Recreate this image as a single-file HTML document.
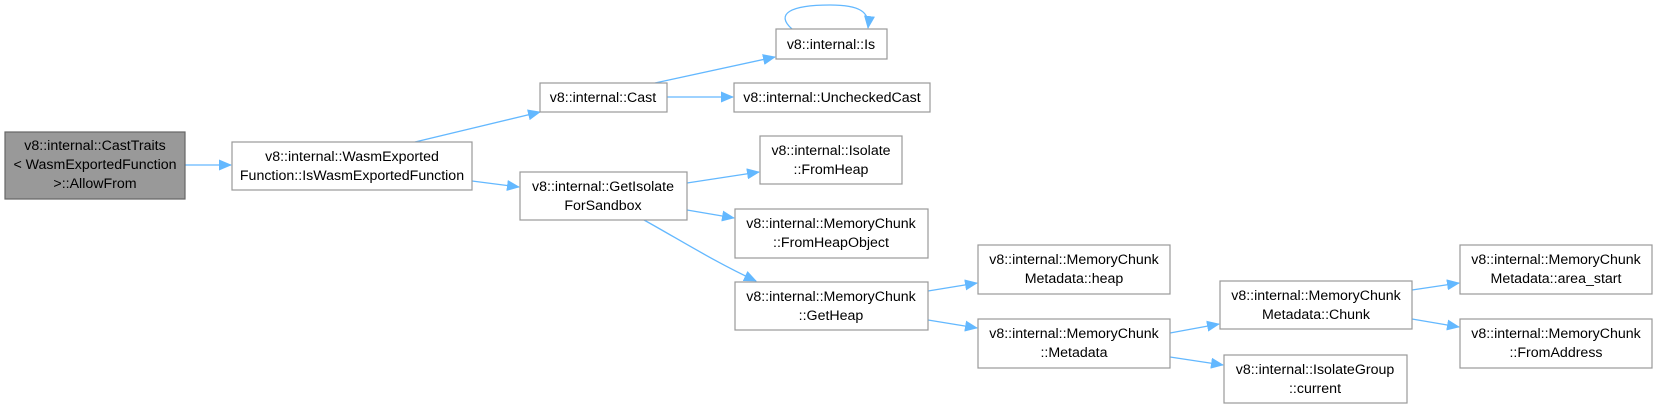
<!DOCTYPE html>
<html><head><meta charset="utf-8"><style>
html,body{margin:0;padding:0;background:#fff;}
svg{display:block;}
text{font-family:"Liberation Sans",sans-serif;font-size:14.2px;fill:#000;text-anchor:middle;}
rect{fill:#fff;stroke:#999;stroke-width:1.2;}
.e{stroke:#63b8ff;stroke-width:1.3;fill:none;marker-end:url(#a);}
</style></head><body>
<svg width="1656" height="409" viewBox="0 0 1656 409">
<defs><marker id="a" markerWidth="13" markerHeight="11" refX="12" refY="5.5" orient="auto" markerUnits="userSpaceOnUse"><path d="M0,0L13,5.5L0,11z" fill="#63b8ff"/></marker></defs>
<path class="e" d="M185,165L231,165"/>
<path class="e" d="M415,142L540,112"/>
<path class="e" d="M472,181L519,187"/>
<path class="e" d="M655,83L775,57"/>
<path class="e" d="M667,97L733,97"/>
<path class="e" d="M792,29C775,14 790,5 830,5C860,5 870,12 868,28"/>
<path class="e" d="M687,183L759,172"/>
<path class="e" d="M687,210L734,218"/>
<path class="e" d="M644,220C680,240 715,262 756,281"/>
<path class="e" d="M928,291L977,283"/>
<path class="e" d="M928,320L977,328"/>
<path class="e" d="M1170,333L1219,324"/>
<path class="e" d="M1170,357L1223,365"/>
<path class="e" d="M1412,290L1459,283"/>
<path class="e" d="M1412,319L1459,327"/>

<rect x="5" y="132" width="180" height="67" style="fill:#999;stroke:#666"/>
<text x="95" y="150">v8::internal::CastTraits</text>
<text x="95" y="169">&lt; WasmExportedFunction</text>
<text x="95" y="188">&gt;::AllowFrom</text>

<rect x="232" y="142" width="240" height="48"/>
<text x="352" y="161">v8::internal::WasmExported</text>
<text x="352" y="180">Function::IsWasmExportedFunction</text>

<rect x="540" y="83" width="127" height="29"/>
<text x="603" y="102">v8::internal::Cast</text>

<rect x="776" y="29" width="111" height="30"/>
<text x="831" y="49">v8::internal::Is</text>

<rect x="734" y="83" width="196" height="29"/>
<text x="832" y="102">v8::internal::UncheckedCast</text>

<rect x="520" y="172" width="167" height="48"/>
<text x="603" y="191">v8::internal::GetIsolate</text>
<text x="603" y="210">ForSandbox</text>

<rect x="760" y="136" width="142" height="48"/>
<text x="831" y="155">v8::internal::Isolate</text>
<text x="831" y="174">::FromHeap</text>

<rect x="735" y="209" width="193" height="49"/>
<text x="831" y="228">v8::internal::MemoryChunk</text>
<text x="831" y="247">::FromHeapObject</text>

<rect x="735" y="282" width="193" height="48"/>
<text x="831" y="301">v8::internal::MemoryChunk</text>
<text x="831" y="320">::GetHeap</text>

<rect x="978" y="245" width="192" height="49"/>
<text x="1074" y="264">v8::internal::MemoryChunk</text>
<text x="1074" y="283">Metadata::heap</text>

<rect x="978" y="319" width="192" height="49"/>
<text x="1074" y="338">v8::internal::MemoryChunk</text>
<text x="1074" y="357">::Metadata</text>

<rect x="1220" y="281" width="192" height="48"/>
<text x="1316" y="300">v8::internal::MemoryChunk</text>
<text x="1316" y="319">Metadata::Chunk</text>

<rect x="1224" y="355" width="183" height="48"/>
<text x="1315" y="374">v8::internal::IsolateGroup</text>
<text x="1315" y="393">::current</text>

<rect x="1460" y="245" width="192" height="49"/>
<text x="1556" y="264">v8::internal::MemoryChunk</text>
<text x="1556" y="283">Metadata::area_start</text>

<rect x="1460" y="319" width="192" height="49"/>
<text x="1556" y="338">v8::internal::MemoryChunk</text>
<text x="1556" y="357">::FromAddress</text>
</svg>
</body></html>
